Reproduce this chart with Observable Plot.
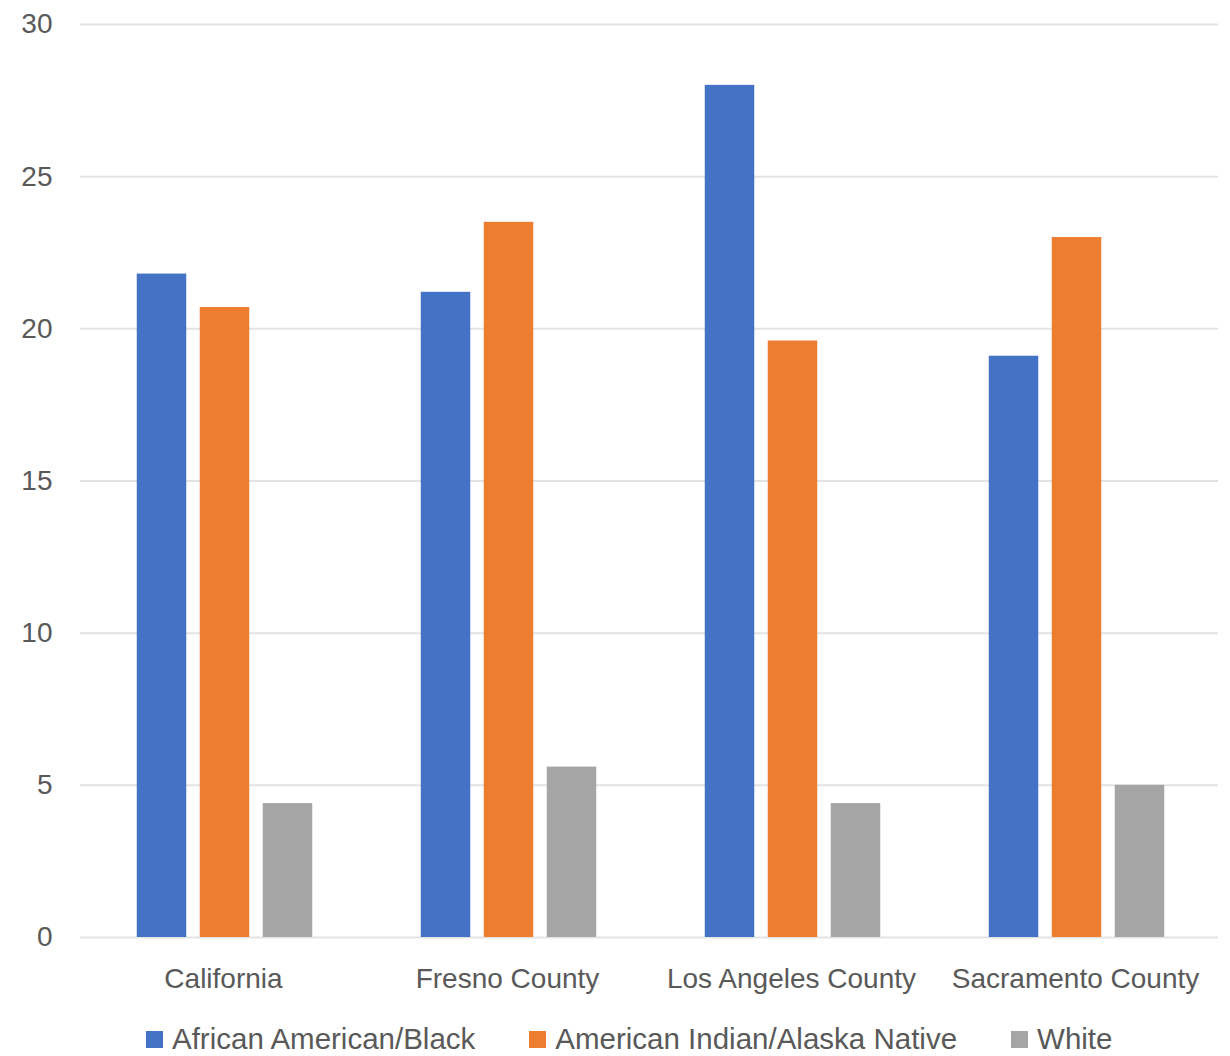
<!DOCTYPE html>
<html>
<head>
<meta charset="utf-8">
<script src="https://cdn.jsdelivr.net/npm/d3@7"></script>
<script src="https://cdn.jsdelivr.net/npm/@observablehq/plot@0.6"></script>
<style>
  html, body { margin: 0; padding: 0; background: #fff; }
  #wrap { position: relative; width: 1230px; height: 1056px; font-family: "Liberation Sans", Arial, sans-serif; }
  #legend { position: absolute; top: 1022px; left: 146px; display: flex; gap: 54px; align-items: center; font-size: 29.5px; color: #595959; }
  .item { display: flex; align-items: center; }
  .sw { width: 17px; height: 17px; margin-right: 9px; }
</style>
</head>
<body>
<div id="wrap"><div id="chart"></div><div id="legend"></div></div>
<script>
const categories = ["California", "Fresno County", "Los Angeles County", "Sacramento County"];
const series = ["African American/Black", "American Indian/Alaska Native", "White"];
const blackValues = [21.8, 21.2, 28.0, 19.1];
const nativeValues = [20.7, 23.5, 19.6, 23.0];
const whiteValues = [4.4, 5.6, 4.4, 5.0];
const yTicks = [0, 5, 10, 15, 20, 25, 30];
const colors = ["#4472C4", "#ED7D31", "#A5A5A5"];

const seriesValues = [blackValues, nativeValues, whiteValues];
const data = [];
series.forEach((s, i) => categories.forEach((c, j) => data.push({category: c, series: s, value: seriesValues[i][j]})));

const step = (1218 - 80) / categories.length;
const barW = 50, barGap = 13;
const groupLeft = (step - (3 * barW + 2 * barGap)) / 2 + 1.5;

const chart = Plot.plot({
  width: 1230,
  height: 1010,
  marginLeft: 80,
  marginRight: 12,
  marginTop: 24,
  marginBottom: 73,
  style: {fontFamily: '"Liberation Sans", Arial, sans-serif', fontSize: "28px", color: "#595959", background: "#fff"},
  x: {domain: categories, padding: 0, label: null, tickSize: 0, tickPadding: 31},
  y: {domain: [0, 30], ticks: yTicks, label: null, tickSize: 0, tickPadding: 28, tickFormat: d => String(d)},
  marks: [
    Plot.ruleY(yTicks, {stroke: "#e3e3e3", strokeWidth: 2}),
    ...series.map((s, i) => Plot.barY(data.filter(d => d.series === s), {
      x: "category",
      y: "value",
      fill: colors[i],
      insetLeft: groupLeft + i * (barW + barGap),
      insetRight: step - (groupLeft + i * (barW + barGap) + barW)
    }))
  ]
});
document.getElementById("chart").appendChild(chart);

const legend = document.getElementById("legend");
series.forEach((s, i) => {
  const item = document.createElement("div");
  item.className = "item";
  const sw = document.createElement("div");
  sw.className = "sw";
  sw.style.background = colors[i];
  const t = document.createElement("span");
  t.textContent = s;
  item.appendChild(sw);
  item.appendChild(t);
  legend.appendChild(item);
});
</script>
</body>
</html>
